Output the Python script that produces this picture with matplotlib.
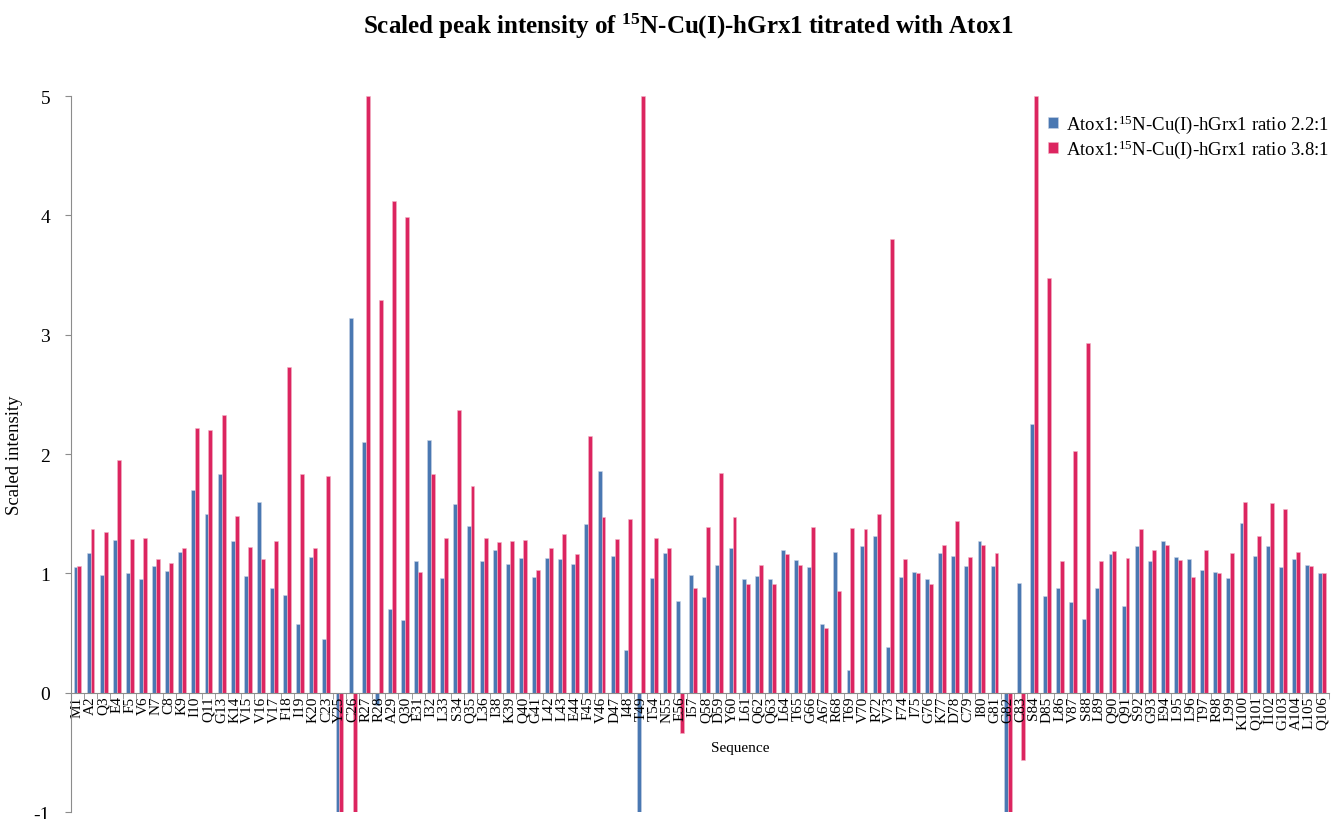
import numpy as np
import matplotlib.pyplot as plt

plt.rcParams['font.family'] = ['Liberation Serif', 'DejaVu Serif']
plt.rcParams['mathtext.fontset'] = 'custom'
plt.rcParams['mathtext.rm'] = 'Liberation Serif'
plt.rcParams['mathtext.bf'] = 'Liberation Serif:bold'
plt.rcParams['mathtext.default'] = 'regular'
plt.rcParams['axes.unicode_minus'] = False

# residues of hGrx1 with assigned peaks
residues = ["M1", "A2", "Q3", "E4", "F5", "V6", "N7", "C8", "K9", "I10",
            "Q11", "G13", "K14", "V15", "V16", "V17", "F18", "I19", "K20", "C23",
            "Y25", "C26", "R27", "R28", "A29", "Q30", "E31", "I32", "L33", "S34",
            "Q35", "L36", "I38", "K39", "Q40", "G41", "L42", "L43", "E44", "F45",
            "V46", "D47", "I48", "T49", "T54", "N55", "E56", "I57", "Q58", "D59",
            "Y60", "L61", "Q62", "Q63", "L64", "T65", "G66", "A67", "R68", "T69",
            "V70", "R72", "V73", "F74", "I75", "G76", "K77", "D78", "C79", "I80",
            "G81", "G82", "C83", "S84", "D85", "L86", "V87", "S88", "L89", "Q90",
            "Q91", "S92", "G93", "E94", "L95", "L96", "T97", "R98", "L99", "K100",
            "Q101", "I102", "G103", "A104", "L105", "Q106"]

# Atox1 : 15N-Cu(I)-hGrx1 = 2.2 : 1
ratio_22 = [1.05, 1.17, 0.99, 1.28, 1.00, 0.95, 1.06, 1.02, 1.18, 1.70,
            1.50, 1.83, 1.27, 0.98, 1.60, 0.88, 0.82, 0.58, 1.14, 0.45,
            -1.00, 3.14, 2.10, -0.10, 0.70, 0.61, 1.10, 2.12, 0.96, 1.58,
            1.40, 1.10, 1.20, 1.08, 1.13, 0.97, 1.13, 1.12, 1.08, 1.41,
            1.86, 1.15, 0.36, -1.00, 0.96, 1.17, 0.77, 0.99, 0.80, 1.07,
            1.21, 0.95, 0.98, 0.95, 1.20, 1.11, 1.05, 0.58, 1.18, 0.19,
            1.23, 1.31, 0.38, 0.97, 1.01, 0.95, 1.17, 1.15, 1.06, 1.27,
            1.06, -1.00, 0.92, 2.25, 0.81, 0.88, 0.76, 0.62, 0.88, 1.16,
            0.73, 1.23, 1.10, 1.27, 1.14, 1.12, 1.03, 1.01, 0.96, 1.42,
            1.15, 1.23, 1.05, 1.12, 1.07, 1.00]

# Atox1 : 15N-Cu(I)-hGrx1 = 3.8 : 1
ratio_38 = [1.06, 1.37, 1.35, 1.95, 1.29, 1.30, 1.12, 1.09, 1.21, 2.22,
            2.20, 2.33, 1.48, 1.22, 1.12, 1.27, 2.73, 1.83, 1.21, 1.82,
            -1.00, -1.00, 5.00, 3.29, 4.12, 3.99, 1.01, 1.83, 1.30, 2.37,
            1.73, 1.30, 1.26, 1.27, 1.28, 1.03, 1.21, 1.33, 1.16, 2.15,
            1.47, 1.29, 1.46, 5.00, 1.30, 1.21, -0.34, 0.88, 1.39, 1.84,
            1.47, 0.91, 1.07, 0.91, 1.16, 1.07, 1.39, 0.54, 0.85, 1.38,
            1.37, 1.50, 3.80, 1.12, 1.00, 0.91, 1.24, 1.44, 1.14, 1.24,
            1.17, -1.00, -0.56, 5.00, 3.48, 1.10, 2.03, 2.93, 1.10, 1.19,
            1.13, 1.37, 1.20, 1.24, 1.11, 0.97, 1.20, 1.00, 1.17, 1.60,
            1.31, 1.59, 1.54, 1.18, 1.06, 1.00]

blue = '#4a78b2'
red = '#dc2560'
axis_grey = '#8c8c8c'

x = np.arange(len(residues))
w = 0.3

fig = plt.figure(figsize=(13.38, 8.2), dpi=100)
ax = fig.add_axes([0.053, 0.0085, 0.940, 0.873])

ax.bar(x - w / 2, ratio_22, width=w, color=blue, edgecolor='#c9d4e6', linewidth=0.4,
       label='Atox1:$^{15}$N-Cu(I)-hGrx1 ratio 2.2:1')
ax.bar(x + w / 2, ratio_38, width=w, color=red, edgecolor='#f1b4c6', linewidth=0.4,
       label='Atox1:$^{15}$N-Cu(I)-hGrx1 ratio 3.8:1')

ax.set_xlim(-0.5, len(residues) - 0.5)
ax.set_ylim(-1, 5)

# category axis sits on y = 0
for s in ['top', 'right']:
    ax.spines[s].set_visible(False)
ax.spines['bottom'].set_position(('data', 0))
ax.spines['bottom'].set_color(axis_grey)
ax.spines['left'].set_color(axis_grey)

ax.set_xticks(x)
ax.set_xticklabels(residues, rotation=90, fontsize=11)
ax.set_xticks(np.arange(-0.5, len(residues)), minor=True)
ax.tick_params(axis='x', which='major', length=0, pad=2)
ax.tick_params(axis='x', which='minor', length=4, color=axis_grey, direction='out')

ax.set_yticks(range(-1, 6))
ax.tick_params(axis='y', length=4, color=axis_grey, labelsize=14, pad=11)

ax.set_ylabel('Scaled intensity', fontsize=13.5)
ax.yaxis.set_label_coords(-0.038, 0.5)
fig.text(740 / 1338, 1 - 749 / 820, 'Sequence', ha='center', va='center', fontsize=11)

fig.suptitle('Scaled peak intensity of $^{\\mathbf{15}}$N-Cu(I)-hGrx1 titrated with Atox1',
             x=688 / 1338, y=1 - 26 / 820, fontsize=18, fontweight='bold', va='center')

ax.legend(loc='upper left', bbox_to_anchor=(1040 / 1338, 1 - 106 / 820),
          bbox_transform=fig.transFigure, frameon=False, fontsize=13.5,
          handlelength=0.55, handleheight=0.55, handletextpad=0.45, labelspacing=0.15,
          borderaxespad=0)

fig.savefig('out.png', dpi=100)
